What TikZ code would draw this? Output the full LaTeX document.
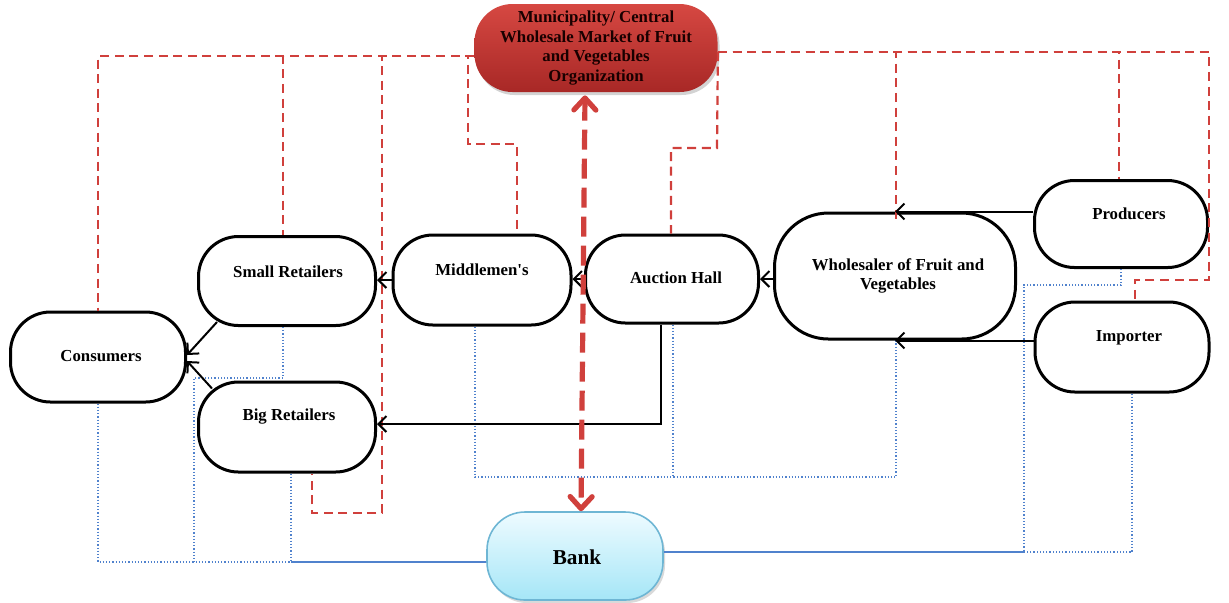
\documentclass[tikz,border=0pt]{standalone}
\usepackage{fontspec}
\setmainfont{Liberation Serif}[Ligatures=TeXOff]
\usetikzlibrary{arrows.meta,calc,shadows}
\definecolor{rdash}{RGB}{208,64,60}
\definecolor{bdot}{RGB}{80,130,205}
\definecolor{mtop}{RGB}{214,72,66}
\definecolor{mbot}{RGB}{168,40,38}
\definecolor{btop}{RGB}{238,251,255}
\definecolor{bbot}{RGB}{165,230,247}
\definecolor{bbord}{RGB}{110,182,212}
\begin{document}
\begin{tikzpicture}[x=0.5pt,y=-0.5pt,
  box/.style={draw=black,line width=1.5pt,rounded corners=20pt,inner sep=0pt,fill=white},
  lbl/.style={font=\fontsize{8.4}{9.8}\selectfont\bfseries,align=center,inner sep=0pt},
  arr/.style={line width=1pt,-{Straight Barb[length=4pt,width=8pt]}},
  rd/.style={draw=rdash,line width=1.1pt,dash pattern=on 4.5pt off 2.8pt},
  bigarr/.style={draw=rdash,line width=2.6pt,dash pattern=on 10pt off 4.5pt,
     {Straight Barb[length=6pt,width=11pt,line width=2.6pt,round]}-{Straight Barb[length=6pt,width=11pt,line width=2.6pt,round]}},
  bd/.style={draw=bdot,line width=0.6pt,densely dotted},
  bs/.style={draw=bdot,line width=0.7pt}
]
\useasboundingbox (0,0) rectangle (1229,602);

% nodes
\node[draw=none,rounded corners=19pt,minimum width=121.5pt,minimum height=44pt,inner sep=0pt,
      top color=mtop,bottom color=mbot,
      drop shadow={shadow xshift=1pt,shadow yshift=-1.5pt,opacity=0.35}] (muni) at (596,48) {};
\node[box,minimum width=88.5pt,minimum height=44.5pt] (small) at (287,281) {};
\node[box,minimum width=89pt,minimum height=45pt] (mid) at (482,280) {};
\node[box,minimum width=86.5pt,minimum height=44pt] (auction) at (672,279) {};
\node[box,rounded corners=27pt,minimum width=120.5pt,minimum height=63pt] (whole) at (895,276) {};
\node[box,minimum width=86.5pt,minimum height=43.5pt] (prod) at (1121,224) {};
\node[box,minimum width=87pt,minimum height=45pt] (imp) at (1122,347) {};
\node[box,minimum width=87.5pt,minimum height=45pt] (cons) at (98,357) {};
\node[box,minimum width=88.5pt,minimum height=45pt] (big) at (287,427) {};
\node[draw=bbord,line width=0.8pt,rounded corners=19pt,minimum width=88pt,minimum height=44pt,inner sep=0pt,
      top color=btop,bottom color=bbot,
      drop shadow={shadow xshift=1pt,shadow yshift=-1.5pt,opacity=0.3}] (bank) at (575,556) {};

% labels
\node[lbl,text=black!90!red] (muni-t) at (596,48) {Municipality/ Central\\Wholesale Market of Fruit\\and Vegetables\\Organization};
\node[lbl] (small-t) at (288,272) {Small Retailers};
\node[lbl] (mid-t) at (482,270) {Middlemen's};
\node[lbl] (auction-t) at (676,278) {Auction Hall};
\node[lbl] (whole-t) at (898,276) {Wholesaler of Fruit and\\Vegetables};
\node[lbl] (prod-t) at (1129,214) {Producers};
\node[lbl] (imp-t) at (1129,338) {Importer};
\node[lbl] (cons-t) at (101,356) {Consumers};
\node[lbl] (big-t) at (289,417) {Big Retailers};
\node[lbl,font=\fontsize{10.6}{12}\selectfont\bfseries] (bank-t) at (577,557) {Bank};

% blue money lines
\draw[bd] (cons.south) |- ($(bank.west)+(0,6)$);
\draw[bs] (291,562) -- ($(bank.west)+(0,6)$);
\draw[bd] ($(small.south)+(-4,0)$) |- (194,378) -- (194,562);
\draw[bd] ($(big.south)+(4,0)$) -- (291,562);
\draw[bd] ($(mid.south)+(-7,0)$) |- (896,477) -- ($(whole.south)+(1,0)$);
\draw[bd] ($(auction.south)+(1,0)$) -- (673,477);
\draw[bd] (prod.south) -- (1121,285) -- (1024,285) -- (1024,552);
\draw[bd] ($(imp.south)+(10,0)$) |- (1024,552);
\draw[bs] ($(bank.east)+(0,-4)$) -- (1024,552);

% red control lines
\draw[rd] ($(muni.west)+(0,8)$) -| (cons.north);
\draw[rd] ($(muni.west)+(0,8)$) -| ($(small.north)+(-4,0)$);
\draw[rd] ($(muni.west)+(0,8)$) -| (382,513) -| ($(big.south)+(25,0)$);
\draw[rd] ($(muni.west)+(0,8)$) -| (468,144) -| ($(mid.north)+(35,0)$);
\draw[rd] ($(muni.east)+(0,4)$) -- (717,148) -| ($(auction.north)+(-1,0)$);
\draw[rd] ($(muni.east)+(0,4)$) -| ($(whole.north)+(1,8)$);
\draw[rd] ($(muni.east)+(0,4)$) -| ($(prod.north)+(-2,0)$);
\draw[rd] ($(muni.east)+(0,4)$) -| (1209,280) -| ($(imp.north)+(13,0)$);

% flow arrows
\draw[arr] (prod.west |- whole.north) -- (whole.north);
\draw[arr] (imp.west |- whole.south) -- (whole.south);
\draw[arr] (auction.east -| whole.west) -- (auction.east);
\draw[arr] (auction.west) -- (auction.west -| mid.east);
\draw[arr] (mid.west) -- (mid.west -| small.east);
\draw[arr] ($(small.south west)+(20,-5)$) -- ($(cons.east)+(0,-2)$);
\draw[arr] ($(big.north west)+(15,8)$) -- ($(cons.east)+(0,4)$);
\draw[arr] ($(auction.south)+(-11,0)$) |- ($(big.east)+(0,-3)$);

% regulation/finance double arrow
\draw[bigarr] ($(muni.south)+(-11,3)$) -- ($(bank.north)+(6,0)$);
\end{tikzpicture}
\end{document}
